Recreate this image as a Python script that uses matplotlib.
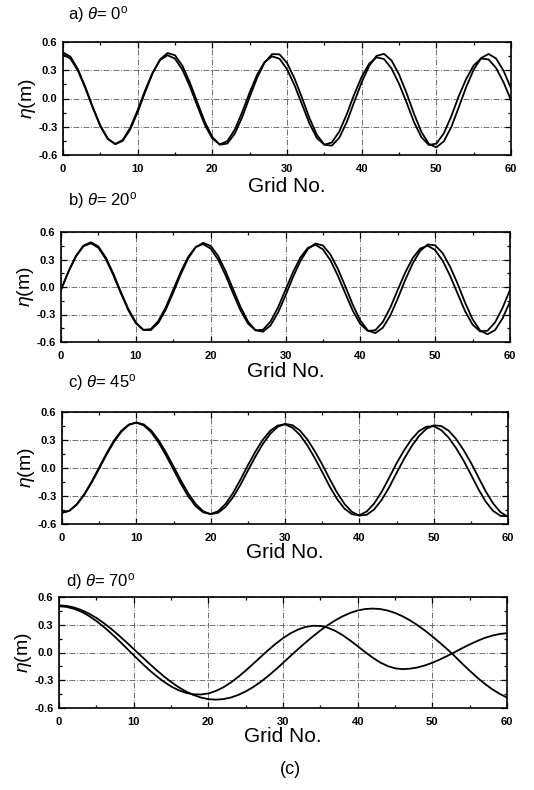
import numpy as np
import matplotlib
matplotlib.use("Agg")
import matplotlib.pyplot as plt
from matplotlib.ticker import MultipleLocator

plt.rcParams['font.family'] = ['Liberation Sans', 'DejaVu Sans']
plt.rcParams['mathtext.fontset'] = 'custom'
plt.rcParams['mathtext.rm'] = 'Liberation Sans'
plt.rcParams['mathtext.it'] = 'Liberation Sans:italic'

# ---------------- data ----------------
grid_no = np.arange(0, 61)

titles = [r"a) $\theta$= 0$^{\rm o}$", r"b) $\theta$= 20$^{\rm o}$",
          r"c) $\theta$= 45$^{\rm o}$", r"d) $\theta$= 70$^{\rm o}$"]

eta_a1 = [0.470, 0.423, 0.295, 0.108, -0.101, -0.295, -0.430, -0.483, -0.440, -0.312,
          -0.123, 0.087, 0.274, 0.407, 0.460, 0.423, 0.304, 0.126, -0.081, -0.281,
          -0.425, -0.487, -0.454, -0.332, -0.145, 0.065, 0.252, 0.388, 0.448, 0.422,
          0.312, 0.142, -0.060, -0.265, -0.419, -0.491, -0.467, -0.352, -0.168, 0.044,
          0.230, 0.369, 0.437, 0.419, 0.319, 0.157, -0.039, -0.249, -0.411, -0.494,
          -0.479, -0.371, -0.190, 0.024, 0.208, 0.351, 0.424, 0.415, 0.324, 0.172,
          -0.017]
eta_a2 = [0.490, 0.443, 0.311, 0.120, -0.093, -0.287, -0.427, -0.485, -0.450, -0.329,
          -0.145, 0.068, 0.267, 0.415, 0.483, 0.459, 0.346, 0.168, -0.043, -0.249,
          -0.409, -0.491, -0.478, -0.374, -0.198, 0.016, 0.220, 0.382, 0.471, 0.469,
          0.377, 0.214, 0.010, -0.207, -0.385, -0.490, -0.501, -0.417, -0.251, -0.037,
          0.172, 0.346, 0.453, 0.474, 0.404, 0.256, 0.060, -0.160, -0.355, -0.483,
          -0.519, -0.455, -0.304, -0.094, 0.122, 0.306, 0.430, 0.473, 0.425, 0.295,
          0.109]

eta_b1 = [-0.030, 0.167, 0.335, 0.444, 0.477, 0.427, 0.303, 0.128, -0.069, -0.254,
          -0.395, -0.467, -0.460, -0.372, -0.221, -0.030, 0.164, 0.329, 0.436, 0.468,
          0.419, 0.298, 0.126, -0.070, -0.257, -0.400, -0.473, -0.466, -0.377, -0.223,
          -0.030, 0.161, 0.323, 0.428, 0.460, 0.411, 0.292, 0.123, -0.071, -0.260,
          -0.405, -0.479, -0.472, -0.382, -0.226, -0.031, 0.158, 0.316, 0.419, 0.451,
          0.403, 0.286, 0.121, -0.072, -0.264, -0.410, -0.485, -0.477, -0.386, -0.229,
          -0.031]
eta_b2 = [-0.030, 0.169, 0.339, 0.452, 0.488, 0.442, 0.320, 0.145, -0.054, -0.240,
          -0.387, -0.468, -0.470, -0.392, -0.247, -0.060, 0.138, 0.313, 0.434, 0.482,
          0.448, 0.339, 0.171, -0.025, -0.219, -0.378, -0.472, -0.487, -0.419, -0.280,
          -0.093, 0.107, 0.285, 0.415, 0.474, 0.453, 0.355, 0.197, 0.006, -0.196,
          -0.366, -0.474, -0.503, -0.445, -0.312, -0.126, 0.077, 0.257, 0.394, 0.464,
          0.455, 0.370, 0.221, 0.035, -0.171, -0.352, -0.474, -0.516, -0.470, -0.344,
          -0.160]

eta_c1 = [-0.480, -0.457, -0.388, -0.281, -0.145, 0.006, 0.158, 0.294, 0.400, 0.466,
          0.486, 0.457, 0.383, 0.272, 0.134, -0.017, -0.169, -0.305, -0.411, -0.475,
          -0.493, -0.463, -0.385, -0.269, -0.126, 0.028, 0.173, 0.301, 0.398, 0.455,
          0.467, 0.432, 0.355, 0.243, 0.107, -0.042, -0.196, -0.332, -0.435, -0.495,
          -0.506, -0.466, -0.380, -0.256, -0.106, 0.049, 0.187, 0.305, 0.394, 0.442,
          0.447, 0.407, 0.327, 0.215, 0.083, -0.068, -0.224, -0.360, -0.460, -0.513,
          -0.517]
eta_c2 = [-0.480, -0.458, -0.391, -0.286, -0.154, -0.006, 0.145, 0.281, 0.390, 0.462,
          0.488, 0.467, 0.402, 0.297, 0.165, 0.017, -0.135, -0.274, -0.387, -0.464,
          -0.495, -0.480, -0.417, -0.314, -0.181, -0.029, 0.120, 0.255, 0.365, 0.441,
          0.473, 0.459, 0.402, 0.306, 0.181, 0.039, -0.116, -0.263, -0.384, -0.470,
          -0.510, -0.501, -0.443, -0.342, -0.209, -0.054, 0.095, 0.229, 0.340, 0.419,
          0.457, 0.450, 0.401, 0.313, 0.195, 0.059, -0.096, -0.250, -0.380, -0.474,
          -0.523]

eta_d1 = [0.510, 0.504, 0.487, 0.459, 0.421, 0.374, 0.318, 0.255, 0.186, 0.113,
          0.038, -0.038, -0.113, -0.186, -0.255, -0.318, -0.374, -0.421, -0.459, -0.487,
          -0.504, -0.510, -0.504, -0.487, -0.459, -0.421, -0.374, -0.318, -0.255, -0.186,
          -0.113, -0.038, 0.035, 0.106, 0.174, 0.238, 0.296, 0.348, 0.392, 0.428,
          0.454, 0.470, 0.475, 0.470, 0.454, 0.428, 0.392, 0.348, 0.296, 0.238,
          0.174, 0.106, 0.035, -0.040, -0.120, -0.197, -0.270, -0.337, -0.396, -0.446,
          -0.487]
eta_d2 = [0.500, 0.493, 0.473, 0.441, 0.396, 0.341, 0.277, 0.206, 0.130, 0.051,
          -0.030, -0.108, -0.183, -0.252, -0.314, -0.366, -0.407, -0.436, -0.452, -0.454,
          -0.443, -0.416, -0.377, -0.325, -0.264, -0.196, -0.123, -0.049, 0.024, 0.093,
          0.155, 0.207, 0.248, 0.276, 0.289, 0.287, 0.268, 0.234, 0.187, 0.130,
          0.068, 0.005, -0.055, -0.107, -0.146, -0.171, -0.180, -0.175, -0.162, -0.140,
          -0.111, -0.076, -0.037, 0.004, 0.047, 0.087, 0.124, 0.157, 0.182, 0.200,
          0.209]

series = [(eta_a1, eta_a2), (eta_b1, eta_b2), (eta_c1, eta_c2), (eta_d1, eta_d2)]

# ---------------- layout ----------------
W, H = 534, 790
fig = plt.figure(figsize=(W / 100, H / 100), dpi=100)
fig.patch.set_facecolor('white')

# (left, right, top, bottom) in pixels
boxes = [(63, 511, 42, 155), (61, 510, 232, 342), (62, 508, 412, 524), (59, 507, 597, 708)]
title_pos = [(68, 15), (68, 201), (68, 383), (66, 581)]
xlabel_y = [187, 371, 553, 736]

for i, ((l, r, t, b), (s1, s2)) in enumerate(zip(boxes, series)):
    ax = fig.add_axes([l / W, 1 - b / H, (r - l) / W, (b - t) / H])
    ax.plot(grid_no, s1, color='black', lw=1.3)
    ax.plot(grid_no, s2, color='black', lw=1.3)
    ax.set_xlim(0, 60)
    ax.set_ylim(-0.6, 0.6)
    ax.xaxis.set_major_locator(MultipleLocator(10))
    ax.xaxis.set_minor_locator(MultipleLocator(5))
    ax.yaxis.set_major_locator(MultipleLocator(0.3))
    ax.yaxis.set_minor_locator(MultipleLocator(0.15))
    ax.yaxis.set_major_formatter(matplotlib.ticker.FormatStrFormatter('%.1f'))
    ax.tick_params(which='both', direction='in', top=True, right=True, width=0.9)
    ax.tick_params(which='major', length=4, labelsize=8)
    ax.tick_params(axis='x', which='major', pad=6.5)
    ax.tick_params(axis='y', which='major', pad=4)
    ax.tick_params(which='minor', length=2.5)
    for lab in ax.get_xticklabels() + ax.get_yticklabels():
        lab.set_fontweight('bold')
    ax.grid(True, which='major', color='0.35', lw=0.6, linestyle=(0, (7, 2, 1, 2)))
    for sp in ax.spines.values():
        sp.set_linewidth(1.2)
    ax.set_ylabel(r"$\eta$(m)", fontsize=14, labelpad=0)
    fig.text(title_pos[i][0] / W, 1 - title_pos[i][1] / H, titles[i],
             fontsize=12, ha='left', va='center')
    fig.text(((l + r) / 2) / W, 1 - xlabel_y[i] / H, "Grid No.",
             fontsize=15, ha='center', va='center')

fig.text(290 / W, 1 - 770 / H, "(c)", fontsize=13, ha='center', va='center')

fig.savefig("out.png", dpi=100, facecolor='white')
